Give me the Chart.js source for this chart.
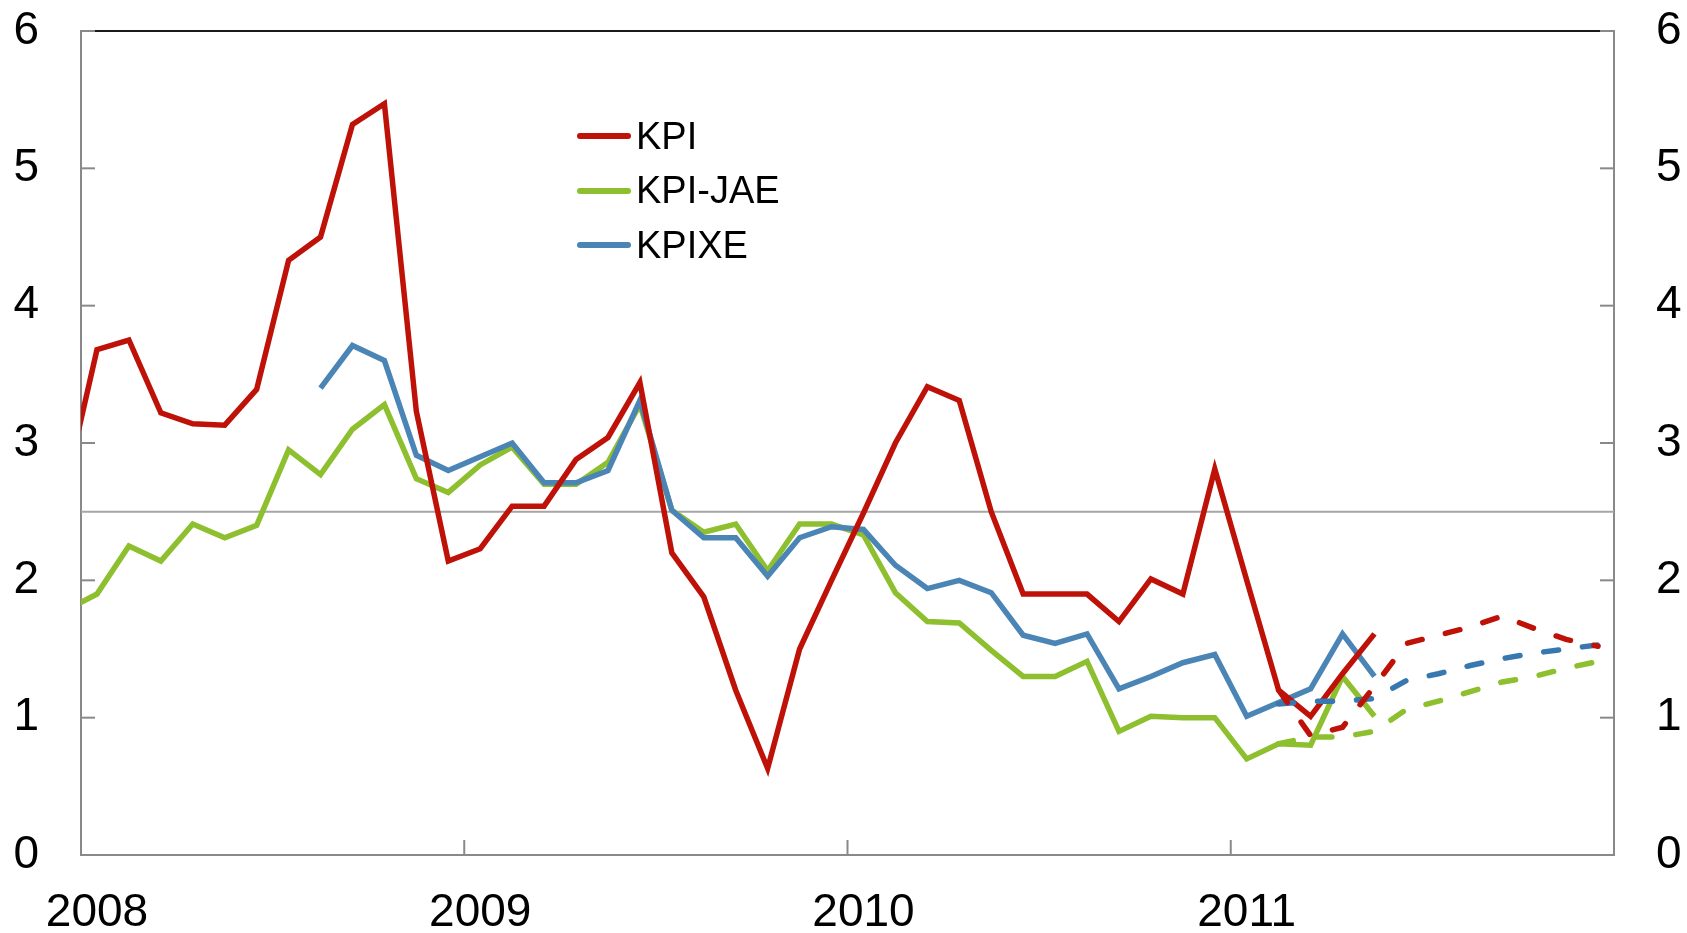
<!DOCTYPE html>
<html lang="no">
<head>
    <meta charset="UTF-8">
    <title>KPI, KPI-JAE og KPIXE</title>
    <script src="https://cdn.jsdelivr.net/npm/chart.js"></script>
    <style>
        body { margin: 0; background: #fff; font-family: "Liberation Sans", Arial, sans-serif; }
        .wrap { position: relative; width: 1687px; height: 933px; }
        .legend { position: absolute; left: 577px; top: 109px; }
        .legend .row { display: flex; align-items: center; height: 54.5px; font-size: 38px; color: #000; }
        .legend .line { width: 54px; height: 6px; border-radius: 3px; margin-right: 5px; }
    </style>
</head>
<body>
    <div class="wrap">
        <canvas id="chart"></canvas>
        <!-- forklaring -->
        <div class="legend" id="legend"></div>
    </div>

    <script>
        // måneder, fra des. 2007 til des. 2011
        const categories = [
            '2007-12',
            '2008-01', '2008-02', '2008-03', '2008-04', '2008-05', '2008-06', '2008-07', '2008-08', '2008-09', '2008-10', '2008-11', '2008-12',
            '2009-01', '2009-02', '2009-03', '2009-04', '2009-05', '2009-06', '2009-07', '2009-08', '2009-09', '2009-10', '2009-11', '2009-12',
            '2010-01', '2010-02', '2010-03', '2010-04', '2010-05', '2010-06', '2010-07', '2010-08', '2010-09', '2010-10', '2010-11', '2010-12',
            '2011-01', '2011-02', '2011-03', '2011-04', '2011-05', '2011-06', '2011-07', '2011-08', '2011-09', '2011-10', '2011-11', '2011-12'
        ];

        const kpi = [
            2.66,
            3.68, 3.75, 3.22, 3.14, 3.13, 3.39, 4.33, 4.50, 5.32, 5.47, 3.23, 2.14,
            2.23, 2.54, 2.54, 2.88, 3.04, 3.44, 2.20, 1.88, 1.20, 0.63, 1.50, 2.00,
            2.49, 3.00, 3.41, 3.31, 2.50, 1.90, 1.90, 1.90, 1.70, 2.01, 1.90, 2.81,
            2.00, 1.20, 1.01, 1.32, 1.61, null, null, null, null, null, null, null
        ];
        const kpiJae = [
            1.78,
            1.90, 2.25, 2.14, 2.41, 2.31, 2.40, 2.95, 2.77, 3.10, 3.28, 2.74, 2.64,
            2.84, 2.97, 2.70, 2.70, 2.86, 3.28, 2.51, 2.35, 2.41, 2.07, 2.41, 2.41,
            2.33, 1.91, 1.70, 1.69, 1.49, 1.30, 1.30, 1.41, 0.90, 1.01, 1.00, 1.00,
            0.70, 0.81, 0.80, 1.30, 1.01, null, null, null, null, null, null, null
        ];
        const kpixe = [
            null,
            null, null, null, null, null, null, null, 3.40, 3.71, 3.60, 2.91, 2.80,
            2.90, 3.00, 2.71, 2.71, 2.80, 3.31, 2.51, 2.31, 2.31, 2.03, 2.31, 2.39,
            2.37, 2.11, 1.94, 2.00, 1.91, 1.60, 1.54, 1.61, 1.21, 1.30, 1.40, 1.46,
            1.01, 1.11, 1.21, 1.61, 1.30, null, null, null, null, null, null, null
        ];

        // anslag (stiplet)
        const pad37 = new Array(37).fill(null);
        const kpiProj = pad37.concat([null, 1.20, 0.87, 0.93, 1.23, 1.54, 1.60, 1.66, 1.74, 1.65, 1.57, 1.52]);
        const kpiJaeProj = pad37.concat([null, 0.81, 0.86, 0.86, 0.90, 1.06, 1.12, 1.19, 1.26, 1.30, 1.36, 1.41]);
        const kpixeProj = pad37.concat([null, 1.10, 1.12, 1.12, 1.14, 1.27, 1.32, 1.38, 1.43, 1.47, 1.50, 1.53]);

        const yearLabels = ['2008', '2009', '2010', '2011'];
        const yTicks = [0, 1, 2, 3, 4, 5, 6];
        const inflationTarget = 2.5;

        const RED = '#BE1208';
        const GREEN = '#8DBF2E';
        const BLUE = '#4A85B5';
        const BLUE_DASH = '#3878B0';

        // x = måneder fra jan. 2008, punktet midt i måneden
        const monthPos = (c) => {
            const [yy, mm] = c.split('-').map(Number);
            return (yy - 2008) * 12 + (mm - 1) + 0.5;
        };
        const toPoints = (arr) => categories.map((c, i) => ({ x: monthPos(c), y: arr[i] }));
        const yearLabelPos = yearLabels.map(y => monthPos(y + '-01'));
        const yearStarts = yearLabelPos.slice(1).map(v => v - 0.5);

        function ds(label, arr, color, dashed, order) {
            return {
                label: label,
                data: toPoints(arr),
                borderColor: color,
                borderWidth: 5.5,
                borderDash: dashed ? [15, 24] : [],
                borderCapStyle: dashed ? 'round' : 'butt',
                pointRadius: 0,
                tension: 0,
                spanGaps: false,
                clip: 0,
                order: order
            };
        }

        const frame = {
            id: 'frame',
            beforeDatasetsDraw(chart) {
                const { ctx, chartArea: a, scales: { x, y } } = chart;
                const seg = (x1, y1, x2, y2) => { ctx.beginPath(); ctx.moveTo(x1, y1); ctx.lineTo(x2, y2); ctx.stroke(); };
                ctx.save();
                ctx.lineWidth = 2;
                ctx.strokeStyle = '#a6a6a6';
                const yt = y.getPixelForValue(inflationTarget);
                seg(a.left, yt, a.right, yt);
                ctx.strokeStyle = '#898989';
                yTicks.forEach(v => {
                    const py = y.getPixelForValue(v);
                    seg(a.left, py, a.left + 14, py);
                    seg(a.right - 14, py, a.right, py);
                });
                yearStarts.forEach(v => {
                    const px = x.getPixelForValue(v);
                    seg(px, a.bottom, px, a.bottom - 15);
                });
                ctx.restore();
            },
            afterDatasetsDraw(chart) {
                const { ctx, chartArea: a } = chart;
                ctx.save();
                ctx.lineWidth = 2;
                ctx.strokeStyle = '#1a1a1a';
                ctx.beginPath();
                ctx.moveTo(a.left + 14, a.top);
                ctx.lineTo(a.right - 14, a.top);
                ctx.stroke();
                ctx.restore();
            }
        };

        const font = { family: '"Liberation Sans", Arial, sans-serif', size: 46 };
        const fitY = (w) => (s) => { s.width = w; s.paddingTop = 0; s.paddingBottom = 0; };

        const chart = new Chart(document.getElementById('chart'), {
            type: 'line',
            data: {
                datasets: [
                    ds('KPI anslag', kpiProj, RED, true, 1),
                    ds('KPIXE anslag', kpixeProj, BLUE_DASH, true, 2),
                    ds('KPI-JAE anslag', kpiJaeProj, GREEN, true, 3),
                    ds('KPI', kpi, RED, false, 4),
                    ds('KPIXE', kpixe, BLUE, false, 5),
                    ds('KPI-JAE', kpiJae, GREEN, false, 6)
                ]
            },
            options: {
                responsive: true,
                maintainAspectRatio: false,
                animation: false,
                layout: { padding: { top: 31, left: 0, right: 0, bottom: 0 } },
                plugins: { legend: { display: false }, tooltip: { enabled: false } },
                scales: {
                    x: {
                        type: 'linear',
                        bounds: 'data',
                        min: 0,
                        max: 48,
                        afterBuildTicks: (s) => { s.ticks = yearLabelPos.map(v => ({ value: v })); },
                        afterFit: (s) => { s.height = 78; s.paddingLeft = 0; s.paddingRight = 0; },
                        grid: { display: false, drawTicks: false },
                        border: { display: true, color: '#898989', width: 2 },
                        ticks: {
                            autoSkip: false,
                            maxRotation: 0,
                            padding: 31,
                            color: '#000',
                            font: font,
                            callback: (v, i) => yearLabels[i]
                        }
                    },
                    y: {
                        position: 'left',
                        min: 0,
                        max: 6,
                        afterBuildTicks: (s) => { s.ticks = yTicks.map(v => ({ value: v })); },
                        afterFit: fitY(81),
                        grid: { display: false, drawTicks: false },
                        border: { display: true, color: '#898989', width: 2 },
                        ticks: { padding: 42, color: '#000', font: font }
                    },
                    y2: {
                        position: 'right',
                        min: 0,
                        max: 6,
                        afterBuildTicks: (s) => { s.ticks = yTicks.map(v => ({ value: v })); },
                        afterFit: fitY(73),
                        grid: { display: false, drawTicks: false },
                        border: { display: true, color: '#898989', width: 2 },
                        ticks: { padding: 42, color: '#000', font: font }
                    }
                }
            },
            plugins: [frame]
        });

        // forklaring for de heltrukne seriene
        const legend = document.getElementById('legend');
        [['KPI', RED], ['KPI-JAE', GREEN], ['KPIXE', BLUE]].forEach(([name, color]) => {
            const row = document.createElement('div');
            row.className = 'row';
            row.innerHTML = '<span class="line" style="background:' + color + '"></span><span>' + name + '</span>';
            legend.appendChild(row);
        });
    </script>
</body>
</html>
